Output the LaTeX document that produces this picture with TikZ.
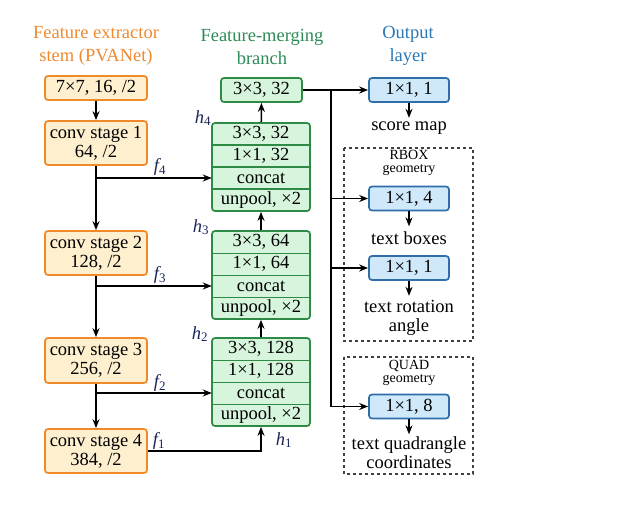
\documentclass[tikz,border=0pt]{standalone}
\usepackage{fontspec}
\setmainfont{Liberation Serif}
\usetikzlibrary{arrows.meta}
\definecolor{obord}{HTML}{F0892A}
\definecolor{ofill}{HTML}{FEF0CF}
\definecolor{gbord}{HTML}{2E8B45}
\definecolor{gfill}{HTML}{D6F5DC}
\definecolor{bbord}{HTML}{2F6EA8}
\definecolor{bfill}{HTML}{CFE8FA}
\definecolor{otitle}{HTML}{EE8A30}
\definecolor{gtitle}{HTML}{2E8B57}
\definecolor{btitle}{HTML}{2A78B5}
\definecolor{lab}{HTML}{1C2658}
\tikzset{
  base/.style={inner sep=0pt, font=\fontsize{18.5}{19}\selectfont, align=center},
  obox/.style={base, draw=obord, fill=ofill, line width=1.7pt, rounded corners=3pt, minimum width=102pt},
  gbox/.style={base, draw=gbord, fill=gfill, line width=1.7pt, rounded corners=3pt},
  gcell/.style={base, minimum width=98pt, minimum height=22pt},
  bbox/.style={base, draw=bbord, fill=bfill, line width=1.7pt, rounded corners=3pt, minimum width=80pt, minimum height=24pt},
  ttl/.style={base, font=\fontsize{18.5}{23}\selectfont},
  txt/.style={base},
  small/.style={base, font=\fontsize{14}{13}\selectfont},
  arr/.style={line width=1.6pt, -{Stealth[length=9pt,width=7pt]}},
  ln/.style={line width=1.6pt},
  dbox/.style={draw=black!75, dashed, line width=1.1pt},
  lbl/.style={inner sep=0pt, text=lab, font=\fontsize{18.5}{19}\selectfont\itshape},
}
\begin{document}
\begin{tikzpicture}[x=1pt,y=-1pt]
\useasboundingbox[fill=white] (0,0) rectangle (620,521);
% titles
\node[ttl, text=otitle] (t1) at (96,46) {Feature extractor\\stem (PVANet)};
\node[ttl, text=gtitle] (t2) at (262,47) {Feature-merging\\branch};
\node[ttl, text=btitle] (t3) at (408,46) {Output\\layer};
% orange column
\node[obox, minimum height=24pt] (s0) at (96,88) {7×7, 16, /2};
\node[obox, minimum height=44pt] (s1) at (96,143) {conv stage 1\\64, /2};
\node[obox, minimum height=44pt] (s2) at (96,253) {conv stage 2\\128, /2};
\node[obox, minimum height=45pt] (s3) at (96,360.5) {conv stage 3\\256, /2};
\node[obox, minimum height=44pt] (s4) at (96,451) {conv stage 4\\384, /2};
% green column
\node[gbox, minimum width=81pt, minimum height=24pt] (gt) at (261.5,90) {3×3, 32};
% block 1
\node[gbox, minimum width=98pt, minimum height=88pt] (B1) at (261,167) {};
\node[gcell] (B1a) at (261,134) {3×3, 32};
\node[gcell] (B1b) at (261,156) {1×1, 32};
\node[gcell] (B1c) at (261,178) {concat};
\node[gcell] (B1d) at (261,200) {unpool, ×2};
\draw[gbord, line width=1.4pt] (B1a.south west) -- (B1a.south east) (B1b.south west) -- (B1b.south east) (B1c.south west) -- (B1c.south east);
% block 2
\node[gbox, minimum width=98pt, minimum height=88pt] (B2) at (261,275) {};
\node[gcell] (B2a) at (261,242) {3×3, 64};
\node[gcell] (B2b) at (261,264) {1×1, 64};
\node[gcell] (B2c) at (261,286) {concat};
\node[gcell] (B2d) at (261,308) {unpool, ×2};
\draw[gbord, line width=1.4pt] (B2a.south west) -- (B2a.south east) (B2b.south west) -- (B2b.south east) (B2c.south west) -- (B2c.south east);
% block 3
\node[gbox, minimum width=98pt, minimum height=88pt] (B3) at (261,382) {};
\node[gcell] (B3a) at (261,349) {3×3, 128};
\node[gcell] (B3b) at (261,371) {1×1, 128};
\node[gcell] (B3c) at (261,393) {concat};
\node[gcell] (B3d) at (261,415) {unpool, ×2};
\draw[gbord, line width=1.4pt] (B3a.south west) -- (B3a.south east) (B3b.south west) -- (B3b.south east) (B3c.south west) -- (B3c.south east);
% blue column
\node[bbox] (o1) at (409,90) {1×1, 1};
\node[txt] (r1) at (409,128) {score map};
\draw[dbox] (344,148) rectangle (473,341);
\node[small] (rb) at (409,163) {RBOX\\geometry};
\node[bbox] (o2) at (409,198.5) {1×1, 4};
\node[txt] (r2) at (409,238) {text boxes};
\node[bbox] (o3) at (409,268) {1×1, 1};
\node[txt] (r3) at (409,318) {text rotation\\angle};
\draw[dbox] (344,357) rectangle (473,474);
\node[small] (qd) at (409,373) {QUAD\\geometry};
\node[bbox] (o4) at (409,406.5) {1×1, 8};
\node[txt] (r4) at (409,453) {text quadrangle\\coordinates};
% connectors orange
\draw[arr] (s0) -- (s1);
\draw[arr] (s1) -- (s2);
\draw[arr] (s2) -- (s3);
\draw[arr] (s3) -- (s4);
\draw[arr] (s1.south |- B1c.west) -- (B1c.west);
\draw[arr] (s2.south |- B2c.west) -- (B2c.west);
\draw[arr] (s3.south |- B3c.west) -- (B3c.west);
\draw[arr] (s4.east) -| (B3.south);
% green connectors
\draw[arr] (B1) -- (gt);
\draw[arr] (B2) -- (B1);
\draw[arr] (B3) -- (B2);
% labels
\node[lbl] (f4) at (160,167) {f\textsubscript{\upshape 4}};
\node[lbl] (f3) at (160,275) {f\textsubscript{\upshape 3}};
\node[lbl] (f2) at (160,383) {f\textsubscript{\upshape 2}};
\node[lbl] (f1) at (159,441) {f\textsubscript{\upshape 1}};
\node[lbl] (h4) at (203,118) {h\textsubscript{\upshape 4}};
\node[lbl] (h3) at (201,227) {h\textsubscript{\upshape 3}};
\node[lbl] (h2) at (200,334) {h\textsubscript{\upshape 2}};
\node[lbl] (h1) at (284,440) {h\textsubscript{\upshape 1}};
% output connectors
\coordinate (j) at (331,90);
\draw[arr] (gt.east) -- (o1.west);
\draw[ln] (j) -- (j |- o4.west);
\draw[arr] (j |- o2.west) -- (o2.west);
\draw[arr] (j |- o3.west) -- (o3.west);
\draw[arr] (j |- o4.west) -- (o4.west);
\draw[arr] (o1.south) -- ++(0,15);
\draw[arr] (o2.south) -- ++(0,15);
\draw[arr] (o3.south) -- ++(0,15);
\draw[arr] (o4.south) -- ++(0,15);
\end{tikzpicture}
\end{document}
